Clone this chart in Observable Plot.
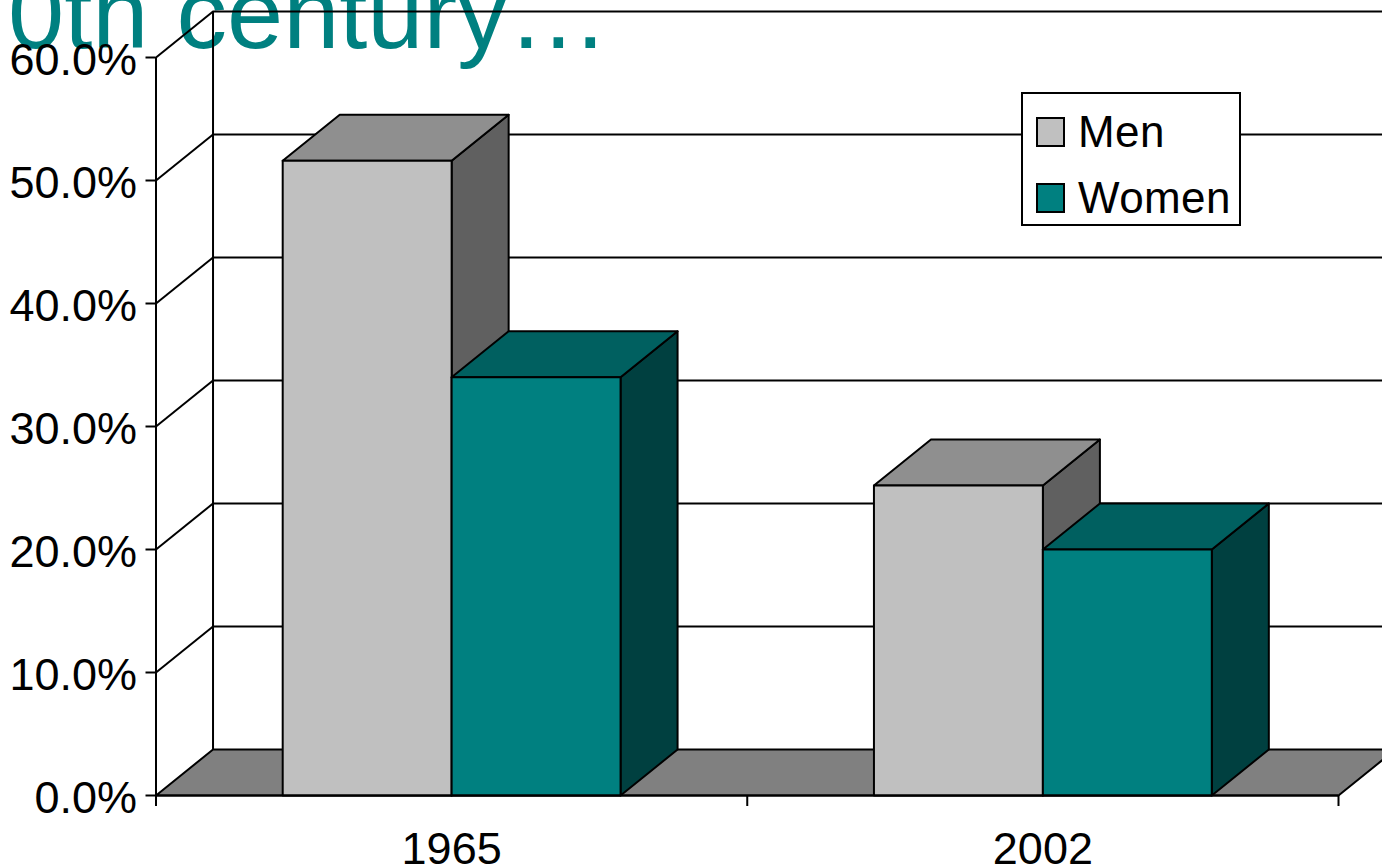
<!DOCTYPE html>
<html>
<head>
<meta charset="utf-8">
<script src="https://cdn.jsdelivr.net/npm/d3@7"></script>
<script src="https://cdn.jsdelivr.net/npm/@observablehq/plot@0.6"></script>
<style>
html,body{margin:0;padding:0;background:#fff;overflow:hidden;width:1382px;height:867px;font-family:"Liberation Sans",Arial,sans-serif}
#wrap{position:relative;width:1382px;height:867px;overflow:hidden}
#title{position:absolute;left:8px;top:-44px;font-size:101px;line-height:115px;color:#008080;white-space:nowrap;z-index:0}
#chart{position:absolute;left:0;top:0;z-index:1}
#chart svg{background:transparent}
#legend{position:absolute;left:1021px;top:92px;width:216px;height:130px;border:2px solid #000;background:#fff;z-index:2;font-size:44px;color:#000;letter-spacing:.4px}
.row{position:absolute;left:13px;display:flex;align-items:center;height:40px}
.sw{width:25px;height:26px;border:2px solid #000;margin-right:13px}
</style>
</head>
<body>
<div id="wrap">
  <div id="title">0th century…</div>
  <div id="chart"></div>
  <div id="legend"></div>
</div>
<script>
const categories = ["1965", "2002"];
const seriesNames = ["Men", "Women"];
const men = [51.6, 25.2];
const women = [34.0, 20.0];
const yTicks = [0, 10, 20, 30, 40, 50, 60];
const frontColors = ["#c0c0c0", "#008080"];
const topColors = ["#8f8f8f", "#006060"];
const sideColors = ["#606060", "#004040"];

const depthX = 57 / 591;     // oblique depth in category units
const depthY = 46 / 12.3;    // oblique depth in percent units
const barWidth = 1 / 3.5;    // two bars with a 150% gap width

const values = [men, women];
const faces = [];
let id = 0;
function face(color, pts) {
  id++;
  [...pts, pts[0]].forEach(([x, y]) => faces.push({id, x, y, color}));
}
categories.forEach((c, i) => {
  const left = i + 0.75 * barWidth;
  values.forEach((vals, s) => {
    const x0 = left + s * barWidth, x1 = x0 + barWidth, v = vals[i];
    face(sideColors[s], [[x1, 0], [x1 + depthX, depthY], [x1 + depthX, v + depthY], [x1, v]]);
    face(topColors[s], [[x0, v], [x1, v], [x1 + depthX, v + depthY], [x0 + depthX, v + depthY]]);
    face(frontColors[s], [[x0, 0], [x1, 0], [x1, v], [x0, v]]);
  });
});

const floor = [];
[[0, 0], [2, 0], [2 + depthX, depthY], [depthX, depthY], [0, 0]].forEach(([x, y]) => floor.push({x, y}));

const lineW = 2;
const font = "Liberation Sans, Arial, sans-serif";

const chart = Plot.plot({
  width: 1382,
  height: 867,
  marginLeft: 155.5,
  marginRight: 44,
  marginTop: 57,
  marginBottom: 72,
  style: {background: "transparent", fontFamily: font},
  color: {type: "identity"},
  x: {domain: [0, 2]},
  y: {domain: [0, 60]},
  marks: [
    Plot.line(floor, {x: "x", y: "y", fill: "#808080", stroke: "#000", strokeWidth: lineW}),
    Plot.ruleY(yTicks.filter(d => d > 0), {y: d => d + depthY, x1: depthX, x2: 2 + depthX, stroke: "#000", strokeWidth: lineW}),
    Plot.ruleX([depthX], {y1: depthY, y2: 60 + depthY, stroke: "#000", strokeWidth: lineW}),
    Plot.link(yTicks.filter(d => d > 0), {x1: 0, x2: depthX, y1: d => d, y2: d => d + depthY, stroke: "#000", strokeWidth: lineW}),
    Plot.ruleX([0], {y1: 0, y2: 60, stroke: "#000", strokeWidth: lineW}),
    Plot.line(faces, {x: "x", y: "y", z: "id", fill: "color", stroke: "#000", strokeWidth: lineW}),
    Plot.ruleY([0], {x1: 0, x2: 2, stroke: "#000", strokeWidth: lineW}),
    Plot.axisY({ticks: yTicks, tickSize: 10, strokeWidth: lineW, stroke: "#000", tickFormat: () => "", label: null}),
    Plot.axisY({ticks: yTicks, tickSize: 0, tickPadding: 19, dy: 3, fontSize: 45, fill: "#000", tickFormat: d => d.toFixed(1) + "%", label: null}),
    Plot.axisX({ticks: [0, 1, 2], tickSize: 11, strokeWidth: lineW, stroke: "#000", tickFormat: () => "", label: null}),
    Plot.axisX({ticks: [0.5, 1.5], tickSize: 0, tickPadding: 37, fontSize: 45, fill: "#000", tickFormat: d => categories[Math.floor(d)], label: null})
  ]
});
document.getElementById("chart").appendChild(chart);

const legend = document.getElementById("legend");
seriesNames.forEach((name, i) => {
  const row = document.createElement("div");
  row.className = "row";
  row.style.top = (18 + i * 66) + "px";
  const sw = document.createElement("div");
  sw.className = "sw";
  sw.style.background = frontColors[i];
  const label = document.createElement("span");
  label.textContent = name;
  row.append(sw, label);
  legend.appendChild(row);
});
</script>
</body>
</html>
